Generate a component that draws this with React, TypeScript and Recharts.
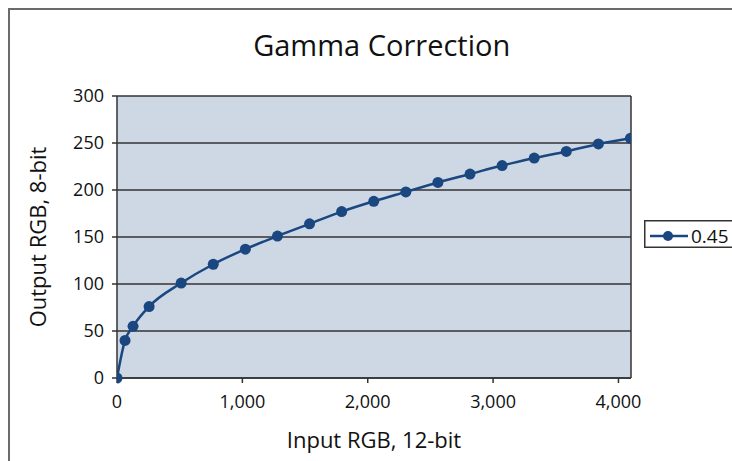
import { LineChart, Line, XAxis, YAxis, CartesianGrid, ReferenceLine } from 'recharts';

// 12-bit input levels and the 8-bit output after gamma 0.45
const inputLevels = [0, 64, 128, 256, 512, 768, 1024, 1280, 1536, 1792, 2048, 2304, 2560, 2816, 3072, 3328, 3584, 3840, 4095];
const outputLevels = [0, 40, 55, 76, 101, 121, 137, 151, 164, 177, 188, 198, 208, 217, 226, 234, 241, 249, 255];
const xTicks = [0, 1000, 2000, 3000, 4000];
const yTicks = [0, 50, 100, 150, 200, 250, 300];
const seriesName = '0.45';

const LINE_COLOR = '#1A4780';
const AXIS_COLOR = '#333333';
const FONT = '"Open Sans", sans-serif';

const data = inputLevels.map((input, i) => ({ input, output: outputLevels[i] }));

const App = () => {
  return (
    <div
      style={{
        position: 'fixed',
        left: 8,
        top: 8,
        width: 724,
        height: 453,
        boxSizing: 'border-box',
        borderTop: '2px solid #6b6b6b',
        borderLeft: '2px solid #6b6b6b',
        overflow: 'hidden',
        fontFamily: FONT,
        background: '#fff',
      }}
    >
      <div
        style={{
          position: 'absolute',
          left: 371.7,
          top: 19.6,
          transform: 'translateX(-50%)',
          fontSize: 29,
          lineHeight: '29px',
          color: '#111',
          whiteSpace: 'nowrap',
        }}
      >
        Gamma Correction
      </div>

      <div style={{ position: 'absolute', left: 0, top: 0 }}>
        <LineChart width={722} height={451} data={data} margin={{ top: 86, right: 101, bottom: 0, left: 0 }}>
          <CartesianGrid vertical={false} stroke={AXIS_COLOR} strokeWidth={1.5} fill="#CDD8E4" fillOpacity={1} />
          <XAxis
            type="number"
            dataKey="input"
            domain={[0, 4100]}
            ticks={xTicks}
            allowDataOverflow
            height={83}
            tickSize={5}
            tickMargin={12}
            stroke={AXIS_COLOR}
            strokeWidth={1.5}
            tick={{ fill: '#111', fontSize: 18, fontFamily: FONT }}
            tickFormatter={(v: number) => v.toLocaleString('en-US')}
            label={{ value: 'Input RGB, 12-bit', position: 'center', dy: 20.5, fill: '#111', fontSize: 22, fontFamily: FONT }}
          />
          <YAxis
            type="number"
            domain={[0, 300]}
            ticks={yTicks}
            width={107}
            tickSize={5}
            tickMargin={8}
            stroke={AXIS_COLOR}
            strokeWidth={1.5}
            tick={{ fill: '#111', fontSize: 18, fontFamily: FONT }}
            label={{ value: 'Output RGB, 8-bit', angle: -90, position: 'center', dx: -25.5, fill: '#111', fontSize: 22, fontFamily: FONT }}
          />
          <ReferenceLine x={4100} stroke={AXIS_COLOR} strokeWidth={1.5} ifOverflow="visible" />
          <Line
            type="monotone"
            dataKey="output"
            name={seriesName}
            stroke={LINE_COLOR}
            strokeWidth={2.5}
            dot={{ r: 5.5, fill: LINE_COLOR, stroke: LINE_COLOR, strokeWidth: 0 }}
            activeDot={false}
            isAnimationActive={false}
          />
        </LineChart>
      </div>

      <svg style={{ position: 'absolute', left: 634, top: 210 }} width={90} height={29}>
        <rect x={0.75} y={0.75} width={100} height={26.5} fill="#fff" stroke={AXIS_COLOR} strokeWidth={1.5} />
        <line x1={6} x2={44} y1={16} y2={16} stroke={LINE_COLOR} strokeWidth={2.5} />
        <circle cx={24} cy={16} r={5} fill={LINE_COLOR} />
        <text x={47} y={23.3} fontSize={19} fontFamily={FONT} fill="#111">
          {seriesName}
        </text>
      </svg>
    </div>
  );
};

export default App;
